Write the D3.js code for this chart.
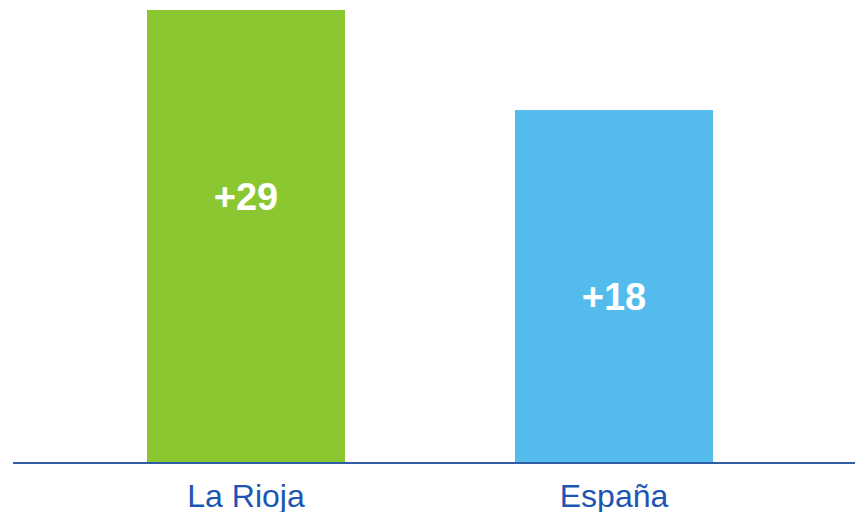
<!DOCTYPE html>
<html><head><meta charset="utf-8">
<script src="https://cdn.jsdelivr.net/npm/d3@7"></script>
<style>html,body{margin:0;padding:0;background:#fff;}svg{display:block;}</style>
</head><body>
<svg id="c" width="855" height="512"></svg>
<script>
const categories = ["La Rioja", "España"];
const values = [29, 18];
const valueLabels = ["+29", "+18"];
const colors = ["#8AC731", "#53BCEC"];

const svg = d3.select("#c");
const baseline = 463;
const x = d3.scaleBand().domain(categories).range([62, 798]).paddingInner(0.462).paddingOuter(0.231);
const y = d3.scaleLinear().domain([-20.8, 29]).range([baseline, 10]);

svg.selectAll("rect.bar").data(values).join("rect")
  .attr("class", "bar")
  .attr("x", (d, i) => x(categories[i]))
  .attr("width", x.bandwidth())
  .attr("y", d => y(d))
  .attr("height", d => baseline - y(d))
  .attr("fill", (d, i) => colors[i]);

svg.selectAll("text.val").data(values).join("text")
  .attr("class", "val")
  .attr("x", (d, i) => x(categories[i]) + x.bandwidth() / 2)
  .attr("y", d => y(d) + 200)
  .attr("text-anchor", "middle")
  .attr("font-family", "Liberation Sans, Arial, sans-serif")
  .attr("font-weight", "bold")
  .attr("font-size", 38)
  .attr("fill", "#fff")
  .text((d, i) => valueLabels[i]);

const axis = d3.axisBottom(x).tickSize(0).tickPadding(21);
const g = svg.append("g").attr("transform", `translate(0,${baseline})`).call(axis);
g.select(".domain").remove();
g.selectAll("text")
  .attr("font-family", "Liberation Sans, Arial, sans-serif")
  .attr("font-size", 32)
  .attr("fill", "#1C55B3");
svg.append("line").attr("x1", 13).attr("x2", 855).attr("y1", baseline).attr("y2", baseline)
  .attr("stroke", "#2E5DA6").attr("stroke-width", 2);
</script>
</body></html>
